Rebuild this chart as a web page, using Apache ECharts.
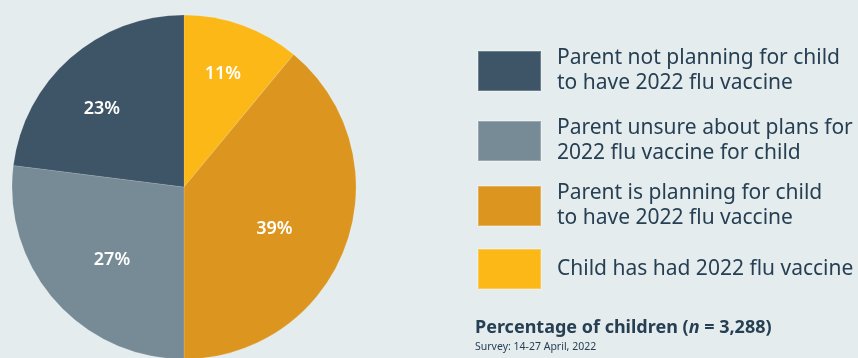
<!DOCTYPE html>
<html>
<head>
<meta charset="utf-8">
<script src="https://cdn.jsdelivr.net/npm/echarts@6.0.0/dist/echarts.min.js"></script>
<style>
  html, body { margin: 0; padding: 0; background: #e4ecee; }
  #chart { width: 858px; height: 358px; }
</style>
</head>
<body>
<div id="chart"></div>
<script>
// slices, clockwise from 12 o'clock
const categories = [
  "Child has had 2022 flu vaccine",
  "Parent is planning for child to have 2022 flu vaccine",
  "Parent unsure about plans for 2022 flu vaccine for child",
  "Parent not planning for child to have 2022 flu vaccine",
];
const values = [11, 39, 27, 23];
const colors = ["#fbb817", "#dc961f", "#778b97", "#3e5467"];

// legend order (top to bottom) and the wrapped text shown for each
const legendOrder = [3, 2, 1, 0];
const legendLabels = {
  "Parent not planning for child to have 2022 flu vaccine": "Parent not planning for child\nto have 2022 flu vaccine",
  "Parent unsure about plans for 2022 flu vaccine for child": "Parent unsure about plans for\n2022 flu vaccine for child",
  "Parent is planning for child to have 2022 flu vaccine": "Parent is planning for child\nto have 2022 flu vaccine",
  "Child has had 2022 flu vaccine": "Child has had 2022 flu vaccine",
};
const legendTops = [46, 116, 181, 248];
// small nudges so the percentage labels sit where the original has them
const labelNudges = [[1, -8], [-15, 4], [12, -1], [-8, 6]];

const FONT = "'Noto Sans', 'Open Sans', sans-serif";
const TEXT_COLOR = "#263f52";

const chart = echarts.init(document.getElementById("chart"), null, { renderer: "canvas" });

const legends = legendOrder.map((idx, i) => ({
  orient: "vertical",
  left: 477,
  top: legendTops[i],
  padding: 0,
  data: [categories[idx]],
  icon: "rect",
  itemWidth: 63,
  itemHeight: 40,
  selectedMode: false,
  formatter: (name) => legendLabels[name],
  textStyle: {
    fontFamily: FONT,
    fontSize: 21,
    lineHeight: 25,
    color: TEXT_COLOR,
    padding: [0, 0, 0, 11],
  },
}));

chart.setOption({
  backgroundColor: "#e4ecee",
  animation: false,
  title: {
    left: 475,
    top: 319,
    padding: 0,
    text: "Percentage of children ({i|n} = 3,288)",
    subtext: "Survey: 14-27 April, 2022",
    itemGap: 5,
    textStyle: {
      fontFamily: FONT,
      fontSize: 18,
      fontWeight: "bold",
      color: TEXT_COLOR,
      rich: {
        i: {
          fontFamily: FONT,
          fontSize: 18,
          fontWeight: "bold",
          fontStyle: "italic",
          color: TEXT_COLOR,
        },
      },
    },
    subtextStyle: {
      fontFamily: FONT,
      fontSize: 10.5,
      color: TEXT_COLOR,
    },
  },
  legend: legends,
  series: [
    {
      type: "pie",
      center: [184, 187],
      radius: [0, 172],
      startAngle: 90,
      clockwise: true,
      silent: true,
      label: { show: false },
      labelLine: { show: false },
      data: categories.map((name, i) => ({
        name,
        value: values[i],
        itemStyle: { color: colors[i], borderColor: "rgba(255,255,255,0.25)", borderWidth: 0.5 },
      })),
    },
    {
      // transparent ring only used to place the percentage labels
      type: "pie",
      center: [184, 187],
      radius: [46, 172],
      startAngle: 90,
      clockwise: true,
      silent: true,
      label: {
        show: true,
        position: "inside",
        formatter: (p) => p.value + "%",
        fontFamily: FONT,
        fontSize: 18,
        fontWeight: 600,
        color: "#ffffff",
      },
      labelLayout: (p) => ({ dx: labelNudges[p.dataIndex][0], dy: labelNudges[p.dataIndex][1] }),
      labelLine: { show: false },
      itemStyle: { color: "rgba(0,0,0,0)" },
      data: values.map((v, i) => ({ name: "label" + i, value: v })),
    },
  ],
});
</script>
</body>
</html>
